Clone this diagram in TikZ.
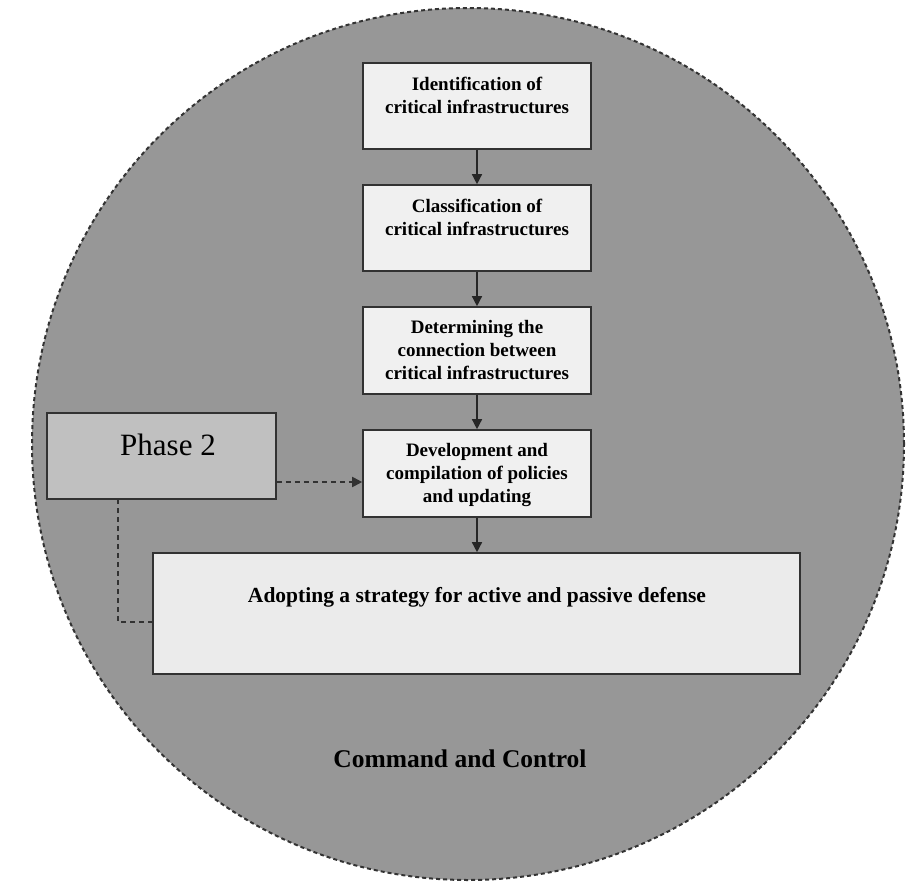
\documentclass[tikz,border=0pt]{standalone}
\usepackage{fontspec}
\setmainfont{Liberation Serif}
\usetikzlibrary{arrows.meta}
\definecolor{circfill}{RGB}{151,151,151}
\definecolor{boxfill}{RGB}{240,240,240}
\definecolor{bigfill}{RGB}{235,235,235}
\definecolor{phasefill}{RGB}{192,192,192}
\definecolor{edge}{RGB}{50,50,50}
\tikzset{
  stepbox/.style={draw=edge, line width=1.6pt, fill=boxfill, minimum width=228pt, inner sep=0pt},
  boxtext/.style={anchor=north, inner sep=0pt, align=center, font=\bfseries\fontsize{19}{23}\selectfont},
  flow/.style={draw=black!85, line width=1.4pt, -{Triangle[length=10pt,width=10pt]}},
  dashlink/.style={draw=edge, line width=1.8pt, dash pattern=on 5pt off 4pt},
}
\begin{document}
\begin{tikzpicture}[x=1pt,y=-1pt]
\useasboundingbox (0,0) rectangle (921,881);
\fill[white] (0,0) rectangle (921,881);
% big circle
\node[circle, draw=black!80, line width=2pt, dash pattern=on 4pt off 3pt, fill=circfill, minimum size=872pt, inner sep=0pt] (circ) at (468,444) {};

% boxes
\node[stepbox, minimum height=86pt] (b1) at (477,106) {};
\node[stepbox, minimum height=86pt] (b2) at (477,228) {};
\node[stepbox, minimum height=87pt] (b3) at (477,350.5) {};
\node[stepbox, minimum height=87pt] (b4) at (477,473.5) {};
\node[draw=edge, line width=1.6pt, fill=bigfill, minimum width=647pt, minimum height=121pt, inner sep=0pt] (b5) at (476.5,613.5) {};
\node[draw=edge, line width=1.6pt, fill=phasefill, minimum width=229pt, minimum height=86pt, inner sep=0pt] (ph) at (161.5,456) {};

% texts
\node[boxtext] (t1) at ([yshift=-15pt]b1.north) {Identification of\\critical infrastructures};
\node[boxtext] (t2) at ([yshift=-15pt]b2.north) {Classification of\\critical infrastructures};
\node[boxtext] (t3) at ([yshift=-14pt]b3.north) {Determining the\\connection between\\critical infrastructures};
\node[boxtext] (t4) at ([yshift=-14pt]b4.north) {Development and\\compilation of policies\\and updating};
\node[anchor=base, inner sep=0pt, font=\bfseries\fontsize{21.5}{26}\selectfont] (t5) at (477,602) {Adopting a strategy for active and passive defense};
\node[anchor=base, inner sep=0pt, font=\fontsize{31}{36}\selectfont] (t6) at (168,455) {Phase 2};
\node[anchor=base, inner sep=0pt, font=\bfseries\fontsize{25.5}{30}\selectfont] (cc) at (460,767) {Command and Control};

% arrows
\draw[flow] (b1.south) -- (b2.north);
\draw[flow] (b2.south) -- (b3.north);
\draw[flow] (b3.south) -- (b4.north);
\draw[flow] (b4.south) -- (b5.north -| b4.south);

% dashed links
\coordinate (phr) at (ph.east |- 0,482);
\draw[dashlink, -{Triangle[length=10pt,width=10pt]}] (phr) -- (b4.west |- phr);
\coordinate (phd) at (118,499);
\coordinate (corner) at (118,622);
\draw[dashlink] (phd) -- (corner) -- (b5.west |- corner);
\end{tikzpicture}
\end{document}
